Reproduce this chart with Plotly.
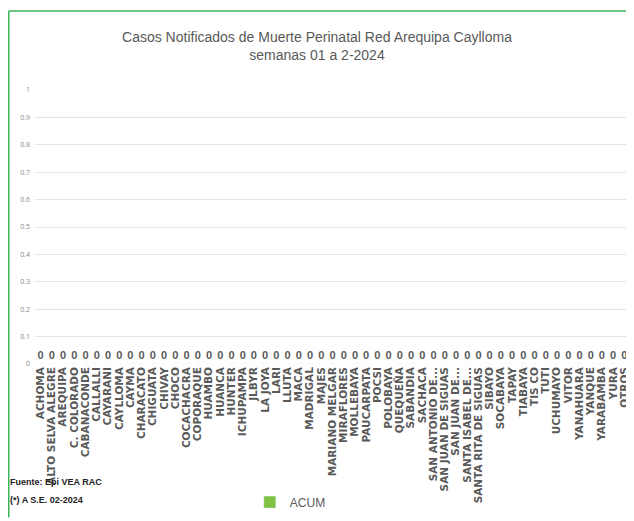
import plotly.graph_objects as go

# distritos / establecimientos
distritos = ["ACHOMA", "ALTO SELVA ALEGRE", "AREQUIPA", "C. COLORADO", "CABANACONDE",
             "CALLALLI", "CAYARANI", "CAYLLOMA", "CAYMA", "CHARACATO", "CHIGUATA",
             "CHIVAY", "CHOCO", "COCACHACRA", "COPORAQUE", "HUAMBO", "HUANCA", "HUNTER",
             "ICHUPAMPA", "JLBYR", "LA JOYA", "LARI", "LLUTA", "MACA", "MADRIGAL", "MAJES",
             "MARIANO MELGAR", "MIRAFLORES", "MOLLEBAYA", "PAUCARPATA", "POCSI", "POLOBAYA",
             "QUEQUEÑA", "SABANDIA", "SACHACA", "SAN ANTONIO DE...", "SAN JUAN DE SIGUAS",
             "SAN JUAN DE...", "SANTA ISABEL DE...", "SANTA RITA DE SIGUAS", "SIBAYO",
             "SOCABAYA", "TAPAY", "TIABAYA", "TIS CO", "TUTI", "UCHUMAYO", "VITOR",
             "YANAHUARA", "YANQUE", "YARABAMBA", "YURA", "OTROS"]
# casos acumulados (todos cero)
acum = [0] * len(distritos)

fig = go.Figure()
fig.add_trace(go.Bar(x=distritos, y=acum, name="ACUM", marker_color="#7dc242"))
# etiquetas de datos
fig.add_trace(go.Scatter(x=distritos, y=acum, mode="markers+text", text=[str(v) for v in acum],
                         textposition="top center", marker=dict(size=2, opacity=0),
                         textfont=dict(size=11, color="#595959", family="Liberation Sans", weight="bold"),
                         showlegend=False, hoverinfo="skip", cliponaxis=False))

#borde verde
fig.add_shape(type="line", xref="paper", yref="paper", x0=-0.0441, x1=-0.0441, y0=1.288, y1=-0.56,
              line=dict(color="#3cb55a", width=1.5))
fig.add_shape(type="line", xref="paper", yref="paper", x0=-0.0441, x1=1.01, y0=1.288, y1=1.288,
              line=dict(color="#3cb55a", width=1.5))

fig.add_annotation(text="<b>Fuente: Epi VEA RAC</b>", xref="paper", yref="paper", x=-0.046, y=-0.432,
                   xanchor="left", yanchor="middle", showarrow=False,
                   font=dict(size=9, color="#222222", family="Liberation Sans"))
fig.add_annotation(text="<b>(*) A S.E. 02-2024</b>", xref="paper", yref="paper", x=-0.046, y=-0.496,
                   xanchor="left", yanchor="middle", showarrow=False,
                   font=dict(size=9, color="#222222", family="Liberation Sans"))

# la pagina tiene 8px de margen, por eso la figura es 8px mas chica
fig.update_layout(
    width=626, height=513,
    margin=dict(l=27, r=4, t=82, b=153),
    paper_bgcolor="white", plot_bgcolor="white",
    title=dict(text="Casos Notificados de Muerte Perinatal Red Arequipa Caylloma<br>semanas 01 a 2-2024",
               x=0.4936, xanchor="center", y=0.934, yanchor="middle",
               font=dict(size=14, color="#595959", family="Liberation Sans")),
    yaxis=dict(range=[0, 1], dtick=0.1, showgrid=True, gridcolor="#e4e4e4", zeroline=False,
               tickfont=dict(size=7, color="#8a8a8a"), ticks="", automargin=False,
               ticklabelstandoff=4),
    xaxis=dict(tickangle=-90, tickfont=dict(size=10.5, color="#595959", family="DejaVu Sans", weight="bold"),
               showline=False, ticks="", automargin=False, tickmode="linear", dtick=1,
               range=[-0.5, len(distritos) - 0.5]),
    showlegend=True,
    legend=dict(orientation="h", x=0.361, y=-0.504, xanchor="left", yanchor="middle",
                font=dict(size=12, color="#595959", family="Liberation Sans")),
    bargap=0.5,
)

fig.write_html("out.html")
